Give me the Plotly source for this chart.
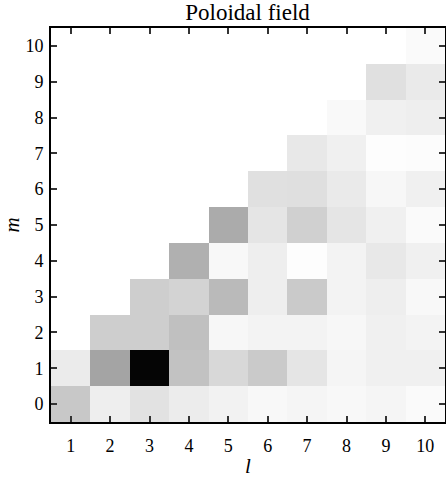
import plotly.graph_objects as go

l_vals = [1, 2, 3, 4, 5, 6, 7, 8, 9, 10]
m_vals = [0, 1, 2, 3, 4, 5, 6, 7, 8, 9, 10]

# gray levels (0 = black, 255 = white); None = empty cell (m > l)
gray_m0 = [200, 238, 226, 236, 242, 248, 245, 248, 245, 250]
gray_m1 = [235, 164, 5, 194, 216, 202, 229, 245, 240, 240]
gray_m2 = [None, 206, 206, 192, 247, 243, 243, 247, 240, 243]
gray_m3 = [None, None, 206, 211, 186, 238, 202, 243, 238, 248]
gray_m4 = [None, None, None, 176, 248, 238, 253, 243, 232, 240]
gray_m5 = [None, None, None, None, 171, 229, 208, 229, 240, 250]
gray_m6 = [None, None, None, None, None, 224, 223, 234, 247, 240]
gray_m7 = [None, None, None, None, None, None, 232, 240, 253, 252]
gray_m8 = [None, None, None, None, None, None, None, 249, 240, 238]
gray_m9 = [None, None, None, None, None, None, None, None, 224, 234]
gray_m10 = [None, None, None, None, None, None, None, None, None, 250]

rows = [gray_m0, gray_m1, gray_m2, gray_m3, gray_m4, gray_m5,
        gray_m6, gray_m7, gray_m8, gray_m9, gray_m10]
z = [[None if g is None else (255 - g) / 255 for g in row] for row in rows]

font_family = "Liberation Serif, Times New Roman, serif"

fig = go.Figure(go.Heatmap(
    x=l_vals, y=m_vals, z=z,
    zmin=0, zmax=1,
    colorscale=[[0, "white"], [1, "black"]],
    showscale=False,
    hoverongaps=False,
))

axis_common = dict(
    showgrid=False, zeroline=False, automargin=False,
    showline=True, linecolor="black", linewidth=2, mirror="ticks",
    ticks="inside", ticklen=6, tickwidth=1.5, tickcolor="#333",
    tickfont=dict(family=font_family, size=18, color="black"),
)

fig.update_layout(
    width=446, height=478,
    margin=dict(l=51, r=1, t=28, b=56),
    paper_bgcolor="white", plot_bgcolor="white",
    title=dict(text="Poloidal field", x=0.555, xanchor="center", y=0.975, yanchor="middle",
               font=dict(family=font_family, size=23, color="black")),
    xaxis=dict(range=[0.5, 10.5], tickvals=l_vals, ticktext=[str(v) for v in l_vals],
               ticklabelstandoff=6,
               title=dict(text="<i>l</i>", font=dict(family=font_family, size=21, color="black"),
                          standoff=14),
               **axis_common),
    yaxis=dict(range=[-0.5, 10.5], tickvals=m_vals, ticktext=[str(v) for v in m_vals],
               ticklabelstandoff=2,
               title=dict(text="<i>m</i>", font=dict(family=font_family, size=21, color="black"),
                          standoff=20),
               **axis_common),
)

fig.write_html("out.html", config={"displayModeBar": False},
               post_script="document.body.style.margin='0px';")
